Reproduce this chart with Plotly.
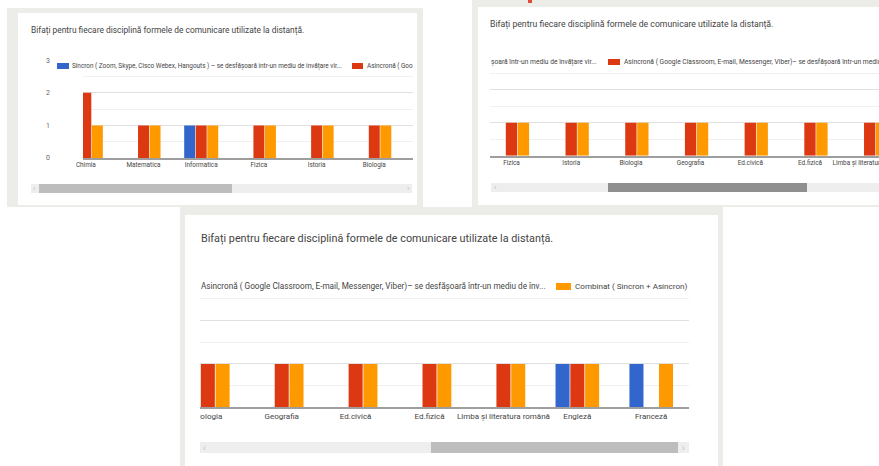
import plotly.graph_objects as go

W, H = 879, 466

subjects = [
    "Chimia", "Matematica", "Informatica", "Fizica", "Istoria", "Biologia",
    "Geografia", "Ed.civică", "Ed.fizică", "Limba și literatura română",
    "Engleză", "Franceză",
]
sincron = [0, 0, 1, 0, 0, 0, 0, 0, 0, 0, 1, 1]
asincron = [2, 1, 1, 1, 1, 1, 1, 1, 1, 1, 1, 0]
combinat = [1, 1, 1, 1, 1, 1, 1, 1, 1, 1, 1, 1]

series_names = [
    "Sincron ( Zoom, Skype, Cisco Webex, Hangouts ) – se desfășoară într-un mediu de învățare virtual",
    "Asincronă ( Google Classroom, E-mail, Messenger, Viber)– se desfășoară într-un mediu de învățare virtual",
    "Combinat ( Sincron + Asincron)",
]
series_values = [sincron, asincron, combinat]
colors = ["#3366cc", "#dc3912", "#ff9900"]

title_text = "Bifați pentru fiecare disciplină formele de comunicare utilizate la distanță."

GRAY_BG = "#ecece9"
TEXT = "#444444"


def fx(v):
    return v / W


def fy(v):
    return 1 - v / H


# the same chart seen through three scrolled screenshots (pixel geometry)
panels = [
    dict(left=83, right=413, base=158, top=60.2, xr=(-0.049, 5.671), tick=6.4, ylab=True),
    dict(left=490, right=879, base=155.7, top=56.7, xr=(2.64, 9.156), tick=6.4, ylab=False),
    dict(left=200, right=689, base=407.3, top=277.3, xr=(4.894, 11.511), tick=8.0, ylab=False),
]

fig = go.Figure()
layout = {}
for i, p in enumerate(panels):
    n = "" if i == 0 else str(i + 1)
    for name, vals, col in zip(series_names, series_values, colors):
        fig.add_trace(go.Bar(
            x=subjects, y=vals, name=name, marker_color=col, marker_line_width=0,
            xaxis="x" + n, yaxis="y" + n, showlegend=False,
        ))
    layout["xaxis" + n] = dict(
        domain=[fx(p["left"]), fx(p["right"])], range=list(p["xr"]), type="category",
        anchor="y" + n, showline=True, linecolor="#9e9e9e", linewidth=1.5,
        showgrid=False, ticks="", tickangle=0, automargin=False, fixedrange=True,
        tickfont=dict(size=p["tick"], color=TEXT, family="Roboto"),
    )
    layout["yaxis" + n] = dict(
        domain=[fy(p["base"]), fy(p["top"])], range=[0, 3], anchor="x" + n,
        dtick=1, showgrid=True, gridcolor="#e0e0e0", zeroline=False,
        minor=dict(dtick=0.5, showgrid=True, gridcolor="#f0f0f0"),
        showticklabels=p["ylab"], ticks="", ticklabelstandoff=32,
        automargin=False, fixedrange=True,
        tickfont=dict(size=7, color="#666666", family="Roboto"),
    )

shapes = []


def rect(x0, y0, x1, y1, color, layer="below"):
    shapes.append(dict(type="rect", xref="paper", yref="paper",
                       x0=fx(x0), x1=fx(x1), y0=fy(y1), y1=fy(y0),
                       fillcolor=color, line_width=0, layer=layer))


# screenshot frames and white cards
rect(7, 8, 423, 207, GRAY_BG)
rect(472, 0, 879, 207, GRAY_BG)
rect(180, 207, 723, 466, GRAY_BG)
rect(18, 13, 417, 205, "white")
rect(478, 7, 879, 205, "white")
rect(185, 215, 718, 466, "white")
rect(528, 0, 532, 3, "#e04a3a")

# legend boxes hide the top gridline partly
rect(83, 58, 413, 63, "white", "above")
rect(490, 54, 670, 59, "white", "above")
rect(186, 275, 256, 280, "white", "above")
rect(186, 410, 200, 425, "white", "above")

# scrollbars
rect(31, 184, 412, 193, "#eeeeee")
rect(39, 184, 232, 193, "#bdbdbd")
rect(491, 183, 879, 192, "#eeeeee")
rect(608, 183, 807, 192, "#8f8f8f")
rect(200, 442, 689, 453, "#eeeeee")
rect(431, 442, 678, 453, "#bdbdbd")

# legend colour keys
rect(57, 63, 69, 69, colors[0])
rect(352, 63, 363, 69, colors[1])
rect(608, 59, 620, 65, colors[1])
rect(556, 283, 571, 290, colors[2])

annotations = []


def label(x, y, text, size, color=TEXT):
    annotations.append(dict(x=fx(x), y=fy(y), xref="paper", yref="paper",
                            text=text, showarrow=False, xanchor="left", yanchor="middle",
                            font=dict(size=size, color=color, family="Roboto")))


label(29, 30.5, title_text, 8.4)
label(488, 25, title_text, 8.7)
label(199, 238.5, title_text, 10.8)

label(70, 66, "Sincron ( Zoom, Skype, Cisco Webex, Hangouts ) – se desfășoară într-un mediu de învățare vir...", 6.4)
label(365, 66, "Asincronă ( Goo", 6.4)
label(489, 62, "șoară într-un mediu de învățare vir...", 6.7)
label(622, 62, "Asincronă ( Google Classroom, E-mail, Messenger, Viber)– se desfășoară într-un mediu de înv...", 6.7)
label(199, 286, "Asincronă ( Google Classroom, E-mail, Messenger, Viber)– se desfășoară într-un mediu de înv...", 8.2)
label(573, 286, "Combinat ( Sincron + Asincron)", 8.1)

label(31, 188.5, "‹", 8, "#bbbbbb")
label(405, 188.5, "›", 8, "#bbbbbb")
label(492, 187.5, "‹", 8, "#bbbbbb")
label(201, 447.5, "‹", 9, "#bbbbbb")
label(680, 447.5, "›", 9, "#bbbbbb")

fig.update_layout(
    width=W, height=H, margin=dict(l=0, r=0, t=0, b=0),
    paper_bgcolor="white", plot_bgcolor="rgba(0,0,0,0)",
    barmode="group", bargap=0.4, bargroupgap=0.05,
    font=dict(family="Roboto", color=TEXT),
    shapes=shapes, annotations=annotations,
    **layout,
)

fig.write_html(
    "out.html",
    config={"displayModeBar": False},
    post_script="document.body.style.margin = '0';",
)
